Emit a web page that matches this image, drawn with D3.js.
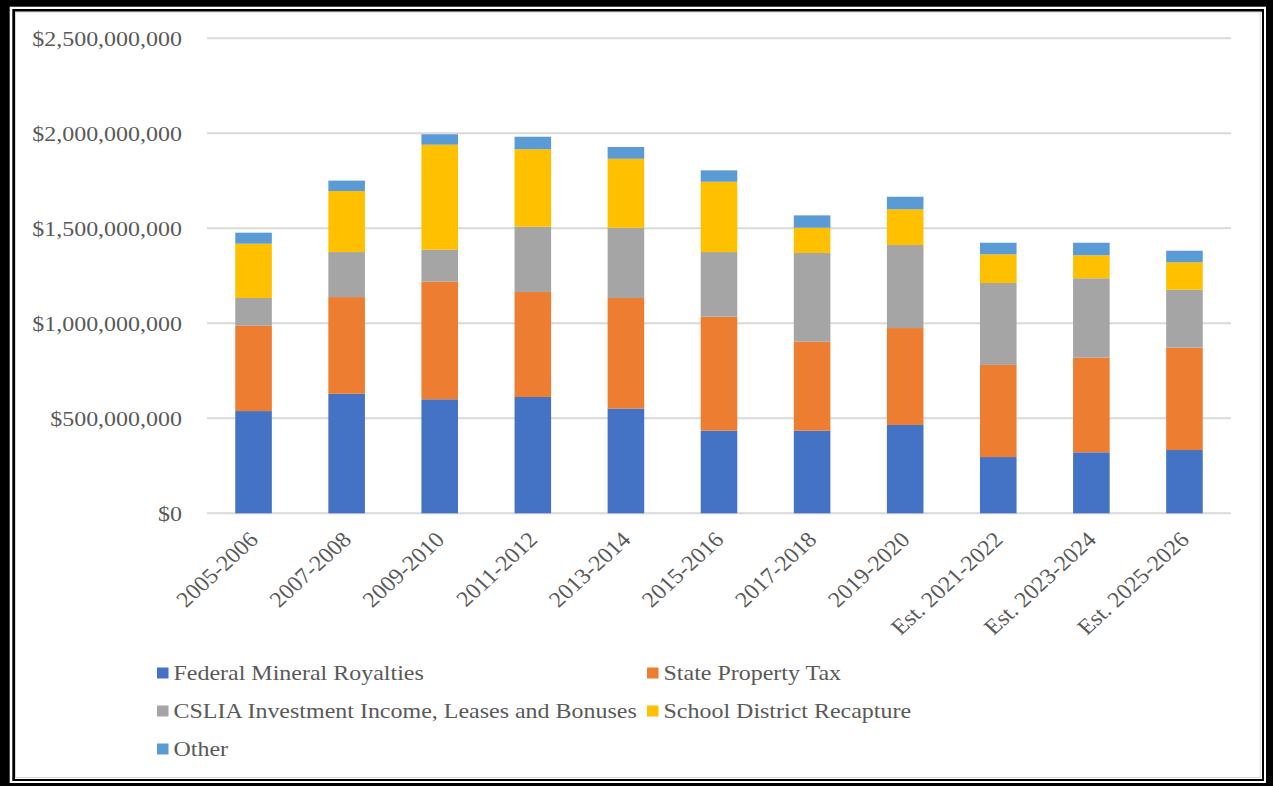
<!DOCTYPE html>
<html>
<head>
<meta charset="utf-8">
<script src="https://cdn.jsdelivr.net/npm/d3@7/dist/d3.min.js"></script>
<style>
  html, body { margin: 0; padding: 0; background: #000; }
  svg { display: block; }
  text { font-family: "Liberation Serif", "Times New Roman", serif; fill: #595959; }
</style>
</head>
<body>
<svg id="chart" width="1273" height="786"></svg>
<script>
// Biennium periods
const categories = ["2005-2006", "2007-2008", "2009-2010", "2011-2012", "2013-2014",
  "2015-2016", "2017-2018", "2019-2020", "Est. 2021-2022", "Est. 2023-2024", "Est. 2025-2026"];

// Revenue by source, dollars
const federalMineralRoyalties = [538e6, 629e6, 600e6, 612e6, 551e6, 435e6, 435e6, 465e6, 296e6, 321e6, 333e6];
const stateProperty = [449e6, 509e6, 619e6, 553e6, 582e6, 600e6, 468e6, 510e6, 485e6, 498e6, 539e6];
const cslia = [146e6, 237e6, 168e6, 343e6, 370e6, 340e6, 467e6, 437e6, 431e6, 418e6, 305e6];
const recapture = [286e6, 321e6, 553e6, 408e6, 363e6, 370e6, 133e6, 188e6, 151e6, 121e6, 144e6];
const other = [58e6, 55e6, 55e6, 66e6, 62e6, 60e6, 65e6, 66e6, 61e6, 66e6, 61e6];

const seriesNames = ["Federal Mineral Royalties", "State Property Tax",
  "CSLIA Investment Income, Leases and Bonuses", "School District Recapture", "Other"];
const seriesColors = ["#4472C4", "#ED7D31", "#A5A5A5", "#FFC000", "#5B9BD5"];

const yTicks = [0, 500e6, 1000e6, 1500e6, 2000e6, 2500e6];

const seriesValues = [federalMineralRoyalties, stateProperty, cslia, recapture, other];
const rows = categories.map((c, i) => {
  const r = { category: c };
  seriesNames.forEach((s, k) => { r[s] = seriesValues[k][i]; });
  return r;
});

const svg = d3.select("#chart");
const W = 1273, H = 786;
const TX = 1.09; // horizontal text stretch

// Double frame
svg.append("rect").attr("x", 0).attr("y", 0).attr("width", W).attr("height", H).attr("fill", "#000");
svg.append("rect").attr("x", 9.7).attr("y", 6.7).attr("width", 1266 - 9.7).attr("height", 783 - 6.7).attr("fill", "#fff");
svg.append("rect").attr("x", 12.3).attr("y", 9).attr("width", 1264 - 12.3).attr("height", 781 - 9).attr("fill", "#000");
svg.append("rect").attr("x", 15).attr("y", 11.7).attr("width", 1262 - 15).attr("height", 779 - 11.7).attr("fill", "#fff");
svg.append("rect").attr("x", 15.5).attr("y", 12.2).attr("width", 1260.2 - 15.5).attr("height", 777.5 - 12.2)
  .attr("fill", "none").attr("stroke", "#d9d9d9").attr("stroke-width", 1);

const plot = { left: 207, right: 1231, top: 38.3, bottom: 513.3 };

const x = d3.scaleBand().domain(categories).range([plot.left, plot.right])
  .paddingInner(0.607).paddingOuter(0.3035);
const y = d3.scaleLinear().domain([0, 2500e6]).range([plot.bottom, plot.top]);

// Gridlines
svg.append("g").selectAll("line").data(yTicks).join("line")
  .attr("x1", plot.left).attr("x2", plot.right)
  .attr("y1", d => y(d)).attr("y2", d => y(d))
  .attr("stroke", "#d9d9d9").attr("stroke-width", 2);

// Y tick labels
const fmt = d3.format("$,");
svg.append("g").selectAll("text").data(yTicks).join("text")
  .attr("transform", d => `translate(182,${y(d)}) scale(${TX},1)`)
  .attr("dy", "0.34em")
  .attr("text-anchor", "end")
  .attr("font-size", 22)
  .text(d => fmt(d));

// Stacked bars
const stack = d3.stack().keys(seriesNames)(rows);
const color = d3.scaleOrdinal().domain(seriesNames).range(seriesColors);

svg.append("g").selectAll("g").data(stack).join("g")
  .attr("fill", d => color(d.key))
  .selectAll("rect").data(d => d).join("rect")
  .attr("x", d => x(d.data.category))
  .attr("width", x.bandwidth())
  .attr("y", d => y(d[1]))
  .attr("height", d => y(d[0]) - y(d[1]));

// X labels, rotated
svg.append("g").selectAll("text").data(categories).join("text")
  .attr("transform", d => `translate(${x(d) + x.bandwidth() / 2 + 6},541) scale(${TX},1) rotate(-45)`)
  .attr("text-anchor", "end")
  .attr("font-size", 22)
  .text(d => d);

// Legend
const legendPos = [
  { x: 157, y: 673 }, { x: 647, y: 673 },
  { x: 157, y: 711 }, { x: 647, y: 711 },
  { x: 157, y: 749 }
];
const legend = svg.append("g").selectAll("g").data(seriesNames).join("g")
  .attr("transform", (d, i) => `translate(${legendPos[i].x},${legendPos[i].y})`);
legend.append("rect").attr("x", 0).attr("y", -5.5).attr("width", 11.5).attr("height", 11)
  .attr("fill", d => color(d));
legend.append("text")
  .attr("transform", `translate(16.5,0) scale(${TX},1)`)
  .attr("dy", "0.34em")
  .attr("font-size", 22)
  .text(d => d);
</script>
</body>
</html>
